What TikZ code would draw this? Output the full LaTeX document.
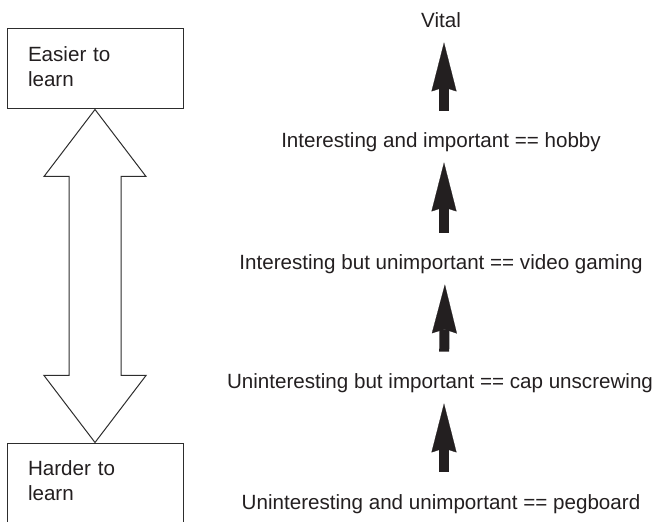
\documentclass[tikz,border=0pt]{standalone}
\usepackage{fontspec}
\setmainfont{Liberation Sans}
\usepackage{tikz}
\usetikzlibrary{arrows.meta, positioning, calc}
\definecolor{InkGray}{RGB}{35, 31, 32}
\definecolor{LineGray}{RGB}{45, 45, 45}

\begin{document}
\begin{tikzpicture}[x=0.5pt, y=-0.5pt,
  every node/.style={font=\fontsize{10.3pt}{12.5pt}\selectfont, text=InkGray},
  levelbox/.style={draw=LineGray, line width=0.5pt, align=left, text width=67pt, inner xsep=10.5pt, minimum height=40pt, inner ysep=0pt},
  rung/.style={anchor=base, inner sep=0pt, text height=7.5pt, text depth=0pt},
  hollow/.style={draw=LineGray, line width=0.5pt, fill=white, line join=miter},
  fatarr/.style={-{Stealth[length=24.5pt, width=12.5pt, inset=2pt, line width=0.1pt]}, InkGray, line width=5pt, shorten <=11pt, shorten >=7pt}]
\useasboundingbox (0,0) rectangle (662,522);
\node[levelbox] (easier) at (95,69) {Easier to\\ learn\vphantom{g}};
\node[levelbox] (harder) at (95,483) {Harder to\\ learn\vphantom{g}};
\draw[hollow] (easier.south) -- ++(-51,67) -- ++(25,0) -- ($(harder.north)+(-26,-67)$) -- ++(-25,0) -- (harder.north)
  -- ++(51,-67) -- ++(-25,0) -- ($(easier.south)+(26,67)$) -- ++(25,0) -- cycle;
\node[rung] (vital) at (441,28) {Vital};
\node[rung] (hobby) at (441,148) {Interesting and important == hobby};
\node[rung] (gaming) at (441,270) {Interesting but unimportant == video gaming};
\node[rung] (capunscrew) at (440,389) {Uninteresting but important == cap unscrewing};
\node[rung] (pegboard) at (441,509) {Uninteresting and unimportant == pegboard};
\draw[fatarr] ([xshift=1.5pt]hobby.north) -- ([xshift=1.5pt]vital.south);
\draw[fatarr] ([xshift=1.5pt]gaming.north) -- ([xshift=1.5pt]hobby.south);
\draw[fatarr] ([xshift=2pt]capunscrew.north) -- ([xshift=2pt]gaming.south);
\draw[fatarr] ([xshift=1.5pt]pegboard.north) -- ([xshift=2pt]capunscrew.south);
\end{tikzpicture}
\end{document}
